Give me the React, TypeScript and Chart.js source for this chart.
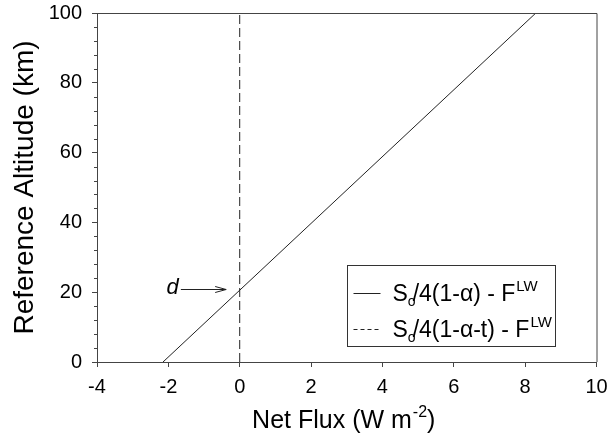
import React, { useEffect, useRef } from 'react';
import { Chart, registerables } from 'chart.js';

Chart.register(...registerables);

// ---- data ----
const altitudeKm = [0, 100];
const netFluxAlbedo = [-2.15, 8.3]; // So/4(1-α) - F^LW
const netFluxAlbedoT = [0, 0]; // So/4(1-α-t) - F^LW
const xTickValues = [-4, -2, 0, 2, 4, 6, 8, 10];
const yTickValues = [0, 20, 40, 60, 80, 100];
const yMinorStep = 4;
const arrowStart = [-1.65, 20.9];
const arrowEnd = [-0.38, 20.9];
const dLabel = { text: 'd', x: -1.88, y: 21.2 };
const legendLabels = [
  { main: 'S', sub: 'o', rest: '/4(1-α) - F', sup: 'LW', dash: [] as number[] },
  { main: 'S', sub: 'o', rest: '/4(1-α-t) - F', sup: 'LW', dash: [4, 3] },
];
const xTitle = { main: 'Net Flux (W m', sup: '-2', end: ')' };
const yTitle = 'Reference Altitude (km)';

const FONT = "'Liberation Sans', Arial, Helvetica, sans-serif";
const AXIS = '#444';
const LINE = '#222';

const decor = {
  id: 'decor',
  afterDraw(chart: any) {
    const { ctx, chartArea: ca, scales } = chart;
    const xs = scales.x;
    const ys = scales.y;
    ctx.save();
    // frame top & right
    ctx.strokeStyle = AXIS;
    ctx.lineWidth = 1;
    ctx.beginPath();
    ctx.moveTo(ca.left, ca.top + 0.5);
    ctx.lineTo(ca.right + 0.5, ca.top + 0.5);
    ctx.lineTo(ca.right + 0.5, ca.bottom);
    ctx.stroke();
    // minor y ticks
    ctx.beginPath();
    for (let v = ys.min; v <= ys.max; v += yMinorStep) {
      if (v % 20 === 0) continue;
      const py = Math.round(ys.getPixelForValue(v)) + 0.5;
      ctx.moveTo(ca.left - 3, py);
      ctx.lineTo(ca.left, py);
    }
    ctx.stroke();

    // arrow
    const ax0 = xs.getPixelForValue(arrowStart[0]);
    const ay = Math.round(ys.getPixelForValue(arrowStart[1])) + 0.5;
    const ax1 = xs.getPixelForValue(arrowEnd[0]);
    ctx.strokeStyle = LINE;
    ctx.beginPath();
    ctx.moveTo(ax0, ay);
    ctx.lineTo(ax1, ay);
    ctx.moveTo(ax1 - 11, ay - 3);
    ctx.lineTo(ax1, ay);
    ctx.lineTo(ax1 - 11, ay + 3);
    ctx.stroke();
    ctx.fillStyle = '#000';
    ctx.font = `italic 22px ${FONT}`;
    ctx.textAlign = 'center';
    ctx.textBaseline = 'middle';
    ctx.fillText(dLabel.text, xs.getPixelForValue(dLabel.x), ys.getPixelForValue(dLabel.y));

    // legend box
    const bw = 208, bh = 81;
    const bx = Math.round(ca.right - 41.5 - bw) + 0.5;
    const by = Math.round(ca.bottom - 16 - bh) + 0.5;
    ctx.strokeStyle = '#333';
    ctx.lineWidth = 1;
    ctx.strokeRect(bx, by, bw, bh);
    legendLabels.forEach((l, i) => {
      const cy = by + 27 + i * 36;
      ctx.strokeStyle = LINE;
      ctx.setLineDash(l.dash);
      ctx.beginPath();
      ctx.moveTo(bx + 6, Math.round(cy) + 0.5);
      ctx.lineTo(bx + 33, Math.round(cy) + 0.5);
      ctx.stroke();
      ctx.setLineDash([]);
      let tx = bx + 45;
      const base = cy + 8;
      ctx.textAlign = 'left';
      ctx.textBaseline = 'alphabetic';
      ctx.fillStyle = '#000';
      ctx.font = `23px ${FONT}`;
      ctx.fillText(l.main, tx, base);
      tx += ctx.measureText(l.main).width;
      ctx.font = `14px ${FONT}`;
      ctx.fillText(l.sub, tx, base + 5);
      const subW = ctx.measureText(l.sub).width;
      tx += subW - 3;
      ctx.font = `23px ${FONT}`;
      ctx.fillText(l.rest, tx, base);
      tx += ctx.measureText(l.rest).width;
      ctx.font = `15px ${FONT}`;
      ctx.fillText(l.sup, tx + 1, base - 10);
    });

    // x title
    ctx.fillStyle = '#000';
    ctx.textBaseline = 'alphabetic';
    ctx.textAlign = 'left';
    ctx.font = `25px ${FONT}`;
    const w1 = ctx.measureText(xTitle.main).width;
    const wEnd = ctx.measureText(xTitle.end).width;
    ctx.font = `16px ${FONT}`;
    const w2 = ctx.measureText(xTitle.sup).width;
    const total = w1 + w2 + wEnd + 1;
    const x0 = (ca.left + ca.right) / 2 - 3 - total / 2;
    const baseY = ca.bottom + 66;
    ctx.font = `25px ${FONT}`;
    ctx.fillText(xTitle.main, x0, baseY);
    ctx.font = `16px ${FONT}`;
    ctx.fillText(xTitle.sup, x0 + w1 + 1, baseY - 11);
    ctx.font = `25px ${FONT}`;
    ctx.fillText(xTitle.end, x0 + w1 + w2 + 1, baseY);
    ctx.restore();
  },
};

export default function App() {
  const ref = useRef<HTMLCanvasElement | null>(null);
  useEffect(() => {
    if (!ref.current) return;
    const chart = new Chart(ref.current, {
      type: 'scatter',
      data: {
        datasets: [
          {
            label: 'So/4(1-α) - F^LW',
            data: altitudeKm.map((a, i) => ({ x: netFluxAlbedo[i], y: a })),
            showLine: true,
            borderColor: LINE,
            borderWidth: 1,
            pointRadius: 0,
          },
          {
            label: 'So/4(1-α-t) - F^LW',
            data: altitudeKm.map((a, i) => ({ x: netFluxAlbedoT[i], y: a })),
            showLine: true,
            borderColor: LINE,
            borderWidth: 1,
            borderDash: [9, 4],
            pointRadius: 0,
          },
        ],
      },
      options: {
        animation: false,
        responsive: false,
        layout: { padding: { top: 13, right: 19.5, left: 0, bottom: 0 } },
        plugins: { legend: { display: false }, tooltip: { enabled: false } },
        scales: {
          x: {
            type: 'linear',
            min: xTickValues[0],
            max: xTickValues[xTickValues.length - 1],
            afterBuildTicks: (s: any) => {
              s.ticks = xTickValues.map((v) => ({ value: v }));
            },
            afterFit: (s: any) => {
              s.height = 76;
            },
            grid: { drawOnChartArea: false, tickLength: 5, color: AXIS },
            border: { color: AXIS, width: 1 },
            ticks: {
              color: '#000',
              padding: 8,
              font: { family: FONT, size: 20 },
              maxRotation: 0,
            },
          },
          y: {
            type: 'linear',
            min: yTickValues[0],
            max: yTickValues[yTickValues.length - 1],
            afterBuildTicks: (s: any) => {
              s.ticks = yTickValues.map((v) => ({ value: v }));
            },
            afterFit: (s: any) => {
              s.width = 97;
              s.paddingTop = 12;
              s.paddingBottom = 12;
            },
            grid: { drawOnChartArea: false, tickLength: 5, color: AXIS },
            border: { color: AXIS, width: 1 },
            ticks: {
              color: '#000',
              padding: 10,
              font: { family: FONT, size: 20 },
            },
            title: {
              display: true,
              text: yTitle,
              color: '#000',
              font: { family: FONT, size: 28 },
              padding: { top: 8, bottom: 0 },
            },
          },
        },
      },
      plugins: [decor],
    });
    return () => chart.destroy();
  }, []);
  return (
    <div style={{ position: 'absolute', left: 0, top: 0, width: 616, height: 438, background: '#fff' }}>
      <canvas ref={ref} width={616} height={438} style={{ width: 616, height: 438, display: 'block' }} />
    </div>
  );
}
